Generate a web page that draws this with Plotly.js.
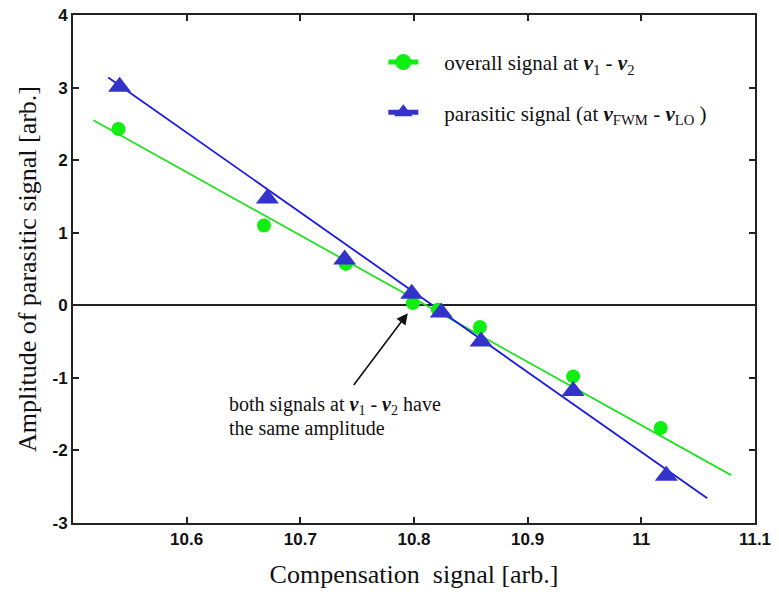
<!DOCTYPE html>
<html><head><meta charset="utf-8">
<script src="https://cdn.plot.ly/plotly-3.0.1.min.js"></script>
<style>html,body{margin:0;padding:0;background:#fff}#chart{width:779px;height:601px}</style>
</head><body><div id="chart"></div>
<script>
// Overall signal at nu1 - nu2 (green circles)
const overallX = [10.540, 10.668, 10.740, 10.799, 10.821, 10.858, 10.940, 11.017];
const overallY = [2.43, 1.10, 0.57, 0.03, -0.06, -0.30, -0.98, -1.69];
// Parasitic signal at nuFWM - nuLO (blue triangles)
const parasiticX = [10.541, 10.671, 10.739, 10.798, 10.824, 10.859, 10.940, 11.022];
const parasiticY = [3.01, 1.47, 0.63, 0.16, -0.10, -0.50, -1.18, -2.35];
// Linear fit lines (endpoints)
const overallFitX = [10.518, 11.079];
const overallFitY = [2.55, -2.34];
const parasiticFitX = [10.531, 11.058];
const parasiticFitY = [3.14, -2.66];
// Axis ticks
const xTicks = [10.6, 10.7, 10.8, 10.9, 11, 11.1];
const xTickText = ['10.6', '10.7', '10.8', '10.9', '11', '11.1'];
const yTicks = [-3, -2, -1, 0, 1, 2, 3, 4];
const yTickText = ['-3', '-2', '-1', '0', '1', '2', '3', '4'];

const GREEN = '#11ee11';
const GREEN_LINE = '#22e022';
const BLUE = '#3333cc';
const BLUE_LINE = '#1a1ae6';
const SERIF = 'Liberation Serif, Times New Roman, serif';
const SANS = 'Liberation Sans, Arial, sans-serif';
const NU = '<b><i>ν</i></b>';

const traces = [
  {x: overallFitX, y: overallFitY, mode: 'lines', line: {color: GREEN_LINE, width: 1.8}, showlegend: false, hoverinfo: 'skip'},
  {x: parasiticFitX, y: parasiticFitY, mode: 'lines', line: {color: BLUE_LINE, width: 1.8}, showlegend: false, hoverinfo: 'skip'},
  {x: overallX, y: overallY, mode: 'markers', marker: {symbol: 'circle', size: 14, color: GREEN}, showlegend: false},
  {x: parasiticX, y: parasiticY, mode: 'markers', marker: {symbol: 'triangle-up', size: 20, color: BLUE}, showlegend: false},
  {x: [null], y: [null], mode: 'lines+markers', legendgroup: 'a',
   name: '&nbsp;&nbsp;&nbsp;&nbsp;overall signal at ' + NU + '<sub>1</sub> - ' + NU + '<sub>2</sub>',
   line: {color: GREEN, width: 5}, marker: {symbol: 'circle', size: 16, color: GREEN}},
  {x: [null], y: [null], mode: 'lines+markers', legendgroup: 'b',
   name: '&nbsp;&nbsp;&nbsp;&nbsp;parasitic signal (at ' + NU + '<sub>FWM</sub> - ' + NU + '<sub>LO</sub> )',
   line: {color: BLUE, width: 5}, marker: {symbol: 'triangle-up', size: 20, color: BLUE}}
];

const layout = {
  width: 779, height: 601,
  margin: {l: 73, r: 24, t: 15, b: 78},
  paper_bgcolor: '#fff', plot_bgcolor: '#fff',
  showlegend: true,
  legend: {x: 0.455, y: 0.947, xanchor: 'left', yanchor: 'top', bgcolor: 'rgba(0,0,0,0)',
           traceorder: 'grouped', tracegroupgap: 20,
           font: {family: SERIF, size: 21, color: '#111'}},
  xaxis: {range: [10.5, 11.1], tickvals: xTicks, ticktext: xTickText,
          showgrid: false, zeroline: false, showline: true, linecolor: '#222', linewidth: 2,
          mirror: 'ticks', ticks: 'inside', ticklen: 6, tickwidth: 1.5, tickcolor: '#222',
          tickfont: {family: SANS, size: 17, color: '#111', weight: 'bold'},
          title: {text: 'Compensation  signal [arb.]', font: {family: SERIF, size: 26, color: '#111'}, standoff: 16}},
  yaxis: {range: [-3, 4], tickvals: yTicks, ticktext: yTickText,
          showgrid: false, zeroline: true, zerolinecolor: '#222', zerolinewidth: 1.5,
          showline: true, linecolor: '#222', linewidth: 2,
          mirror: 'ticks', ticks: 'inside', ticklen: 6, tickwidth: 1.5, tickcolor: '#222',
          tickfont: {family: SANS, size: 17, color: '#111', weight: 'bold'},
          title: {text: 'Amplitude of parasitic signal [arb.]', font: {family: SERIF, size: 26, color: '#111'}, standoff: 8}},
  annotations: [
    {x: 10.7945, y: -0.11, ax: 10.746, ay: -1.12, xref: 'x', yref: 'y', axref: 'x', ayref: 'y',
     text: '', showarrow: true, arrowhead: 2, arrowsize: 1.4, arrowwidth: 1.6, arrowcolor: '#111'},
    {x: 10.6354, y: -1.385, xref: 'x', yref: 'y', xanchor: 'left', yanchor: 'middle', align: 'left', showarrow: false,
     text: 'both signals at ' + NU + '<sub>1</sub> - ' + NU + '<sub>2</sub> have',
     font: {family: SERIF, size: 20, color: '#111'}},
    {x: 10.6354, y: -1.70, xref: 'x', yref: 'y', xanchor: 'left', yanchor: 'middle', align: 'left', showarrow: false,
     text: 'the same amplitude',
     font: {family: SERIF, size: 20, color: '#111'}}
  ]
};

Plotly.newPlot('chart', traces, layout, {displayModeBar: false, responsive: false});
</script>
</body></html>
